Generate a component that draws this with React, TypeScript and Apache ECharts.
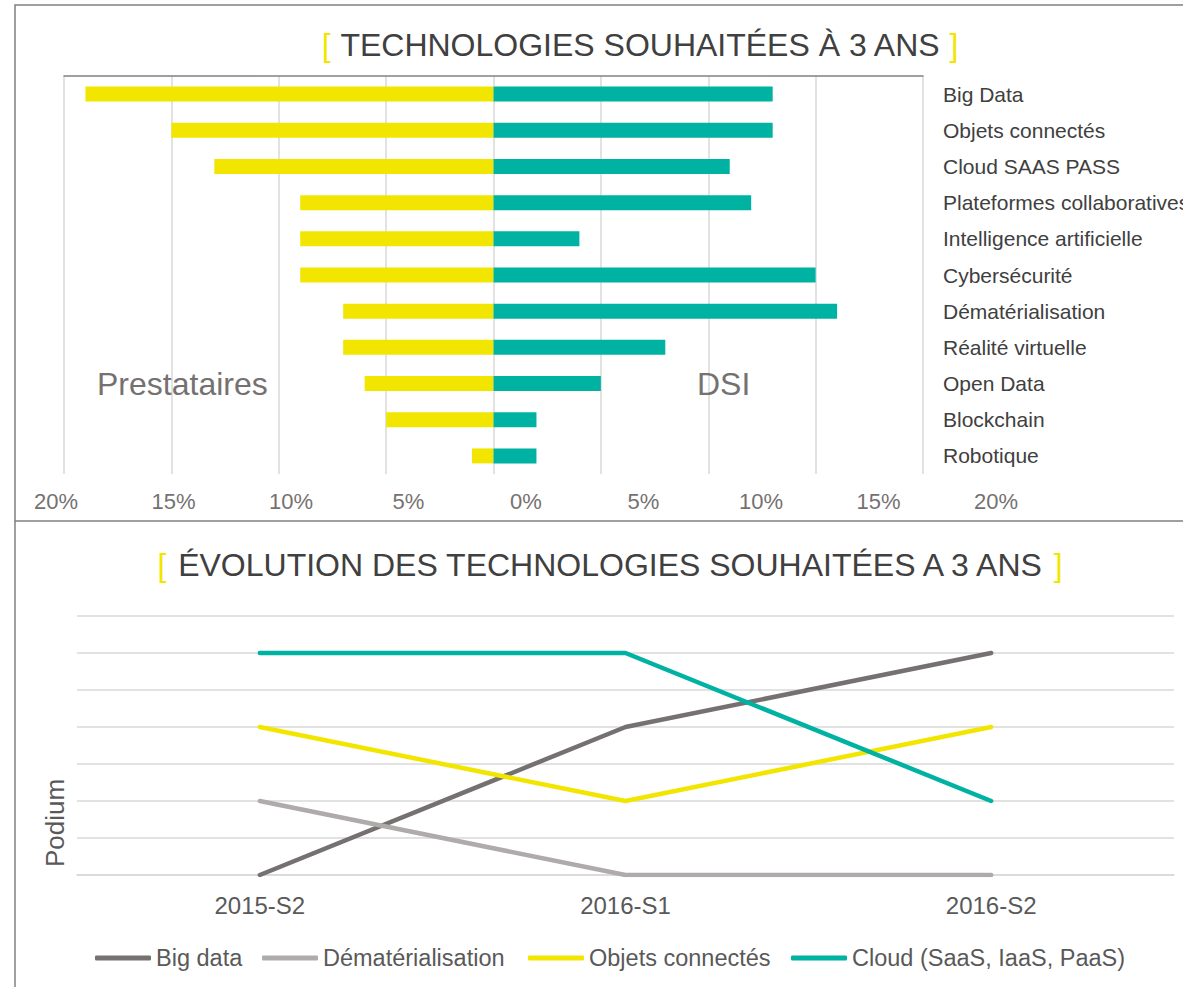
import React, { useEffect, useRef } from "react";
import * as echarts from "echarts";

const categories = [
  "Big Data",
  "Objets connectés",
  "Cloud SAAS PASS",
  "Plateformes collaboratives",
  "Intelligence artificielle",
  "Cybersécurité",
  "Dématérialisation",
  "Réalité virtuelle",
  "Open Data",
  "Blockchain",
  "Robotique",
];
const prestataires = [19, 15, 13, 9, 9, 9, 7, 7, 6, 5, 1];
const dsi = [13, 13, 11, 12, 4, 15, 16, 8, 5, 2, 2];

const periods = ["2015-S2", "2016-S1", "2016-S2"];
const seriesNames = ["Big data", "Dématérialisation", "Objets connectés", "Cloud (SaaS, IaaS, PaaS)"];
const bigData = [0, 2, 3];
const dematerialisation = [1, 0, 0];
const objetsConnectes = [2, 1, 2];
const cloud = [3, 3, 1];

const FONT = "Liberation Sans, Arial, sans-serif";
const YELLOW = "#F2E600";
const TEAL = "#00B2A2";
const DARK = "#767171";
const LIGHT = "#AFABAB";

export default function App() {
  const ref = useRef<HTMLDivElement>(null);
  useEffect(() => {
    if (!ref.current) return;
    const chart = echarts.init(ref.current, null, { renderer: "svg" });
    const titleRich = {
      b: { fill: YELLOW, fontSize: 32, fontFamily: FONT },
      t: { fill: "#404040", fontSize: 32, fontFamily: FONT },
    };
    const legendLefts = [95, 262, 528, 791];
    const lineColors = [DARK, LIGHT, YELLOW, TEAL];
    const lineData = [bigData, dematerialisation, objetsConnectes, cloud];
    chart.setOption({
      animation: false,
      backgroundColor: "#ffffff",
      textStyle: { fontFamily: FONT },
      graphic: [
        {
          type: "rect",
          shape: { x: 15, y: 5, width: 1200, height: 516 },
          style: { fill: "none", stroke: "#808080", lineWidth: 1.5 },
          silent: true,
        },
        {
          type: "line",
          shape: { x1: 15, y1: 521, x2: 15, y2: 995 },
          style: { stroke: "#808080", lineWidth: 1.5 },
          silent: true,
        },
        {
          type: "text",
          x: 640,
          y: 45,
          style: {
            text: "{b|[} {t|TECHNOLOGIES SOUHAITÉES À 3 ANS} {b|]}",
            rich: titleRich,
            fontSize: 32,
            fontFamily: FONT,
            align: "center",
            verticalAlign: "middle",
          },
        },
        {
          type: "text",
          x: 610,
          y: 565,
          style: {
            text: "{b|[} {t|ÉVOLUTION DES TECHNOLOGIES SOUHAITÉES A 3 ANS} {b|]}",
            rich: titleRich,
            fontSize: 32,
            fontFamily: FONT,
            align: "center",
            verticalAlign: "middle",
          },
        },
        {
          type: "text",
          x: 97,
          y: 384,
          style: {
            text: "Prestataires",
            fill: DARK,
            fontSize: 32,
            fontFamily: FONT,
            align: "left",
            verticalAlign: "middle",
          },
          z: 10,
        },
        {
          type: "text",
          x: 697,
          y: 384,
          style: {
            text: "DSI",
            fill: DARK,
            fontSize: 32,
            fontFamily: FONT,
            align: "left",
            verticalAlign: "middle",
          },
          z: 10,
        },
        {
          type: "text",
          x: 55,
          y: 823,
          rotation: Math.PI / 2,
          style: {
            text: "Podium",
            fill: "#595959",
            fontSize: 26,
            fontFamily: FONT,
            align: "center",
            verticalAlign: "middle",
          },
        },
      ],
      grid: [
        { left: 64, right: 260, top: 76, bottom: 987 - 474, outerBoundsMode: "none", containLabel: false },
        { left: 56, width: 940, top: 478, height: 10, outerBoundsMode: "none", containLabel: false },
        { left: 77, right: 9, top: 616, bottom: 987 - 875, outerBoundsMode: "none", containLabel: false },
      ],
      xAxis: [
        {
          gridIndex: 0,
          type: "value",
          position: "top",
          min: -20,
          max: 20,
          interval: 5,
          axisLabel: { show: false },
          axisTick: { show: false },
          axisLine: { show: true, onZero: false, lineStyle: { color: "#808080", width: 1.5 } },
          splitLine: { show: true, lineStyle: { color: "#D9D9D9", width: 1.5 } },
        },
        {
          gridIndex: 1,
          type: "value",
          min: -20,
          max: 20,
          interval: 5,
          axisLine: { show: false },
          axisTick: { show: false },
          splitLine: { show: false },
          axisLabel: {
            margin: 2,
            fontSize: 22,
            color: DARK,
            fontFamily: FONT,
            formatter: (v: number) => Math.abs(v) + "%",
          },
        },
        {
          gridIndex: 2,
          type: "category",
          data: periods,
          boundaryGap: true,
          axisLine: { show: true, lineStyle: { color: "#D9D9D9", width: 1.5 } },
          axisTick: { show: false },
          axisLabel: { margin: 18, fontSize: 24, color: "#595959", fontFamily: FONT },
        },
      ],
      yAxis: [
        {
          gridIndex: 0,
          type: "category",
          data: categories,
          inverse: true,
          position: "right",
          axisLine: { show: false },
          axisTick: { show: false },
          axisLabel: {
            margin: 20,
            fontSize: 21,
            color: "#404040",
            fontFamily: FONT,
            align: "left",
          },
        },
        { gridIndex: 1, type: "value", show: false },
        {
          gridIndex: 2,
          type: "value",
          min: 0,
          max: 3.5,
          interval: 0.5,
          axisLabel: { show: false },
          axisLine: { show: false },
          axisTick: { show: false },
          splitLine: { show: true, lineStyle: { color: "#D9D9D9", width: 1.5 } },
        },
      ],
      legend: seriesNames.map((n, i) => ({
        left: legendLefts[i],
        top: 946,
        padding: 0,
        itemWidth: 56,
        itemHeight: 5,
        icon: "roundRect",
        textStyle: { fontSize: 23.5, color: "#595959", fontFamily: FONT },
        data: [n],
      })),
      series: [
        {
          name: "Prestataires",
          type: "bar",
          xAxisIndex: 0,
          yAxisIndex: 0,
          data: prestataires.map((v) => -v),
          barWidth: 15,
          barGap: "-100%",
          itemStyle: { color: YELLOW },
        },
        {
          name: "DSI",
          type: "bar",
          xAxisIndex: 0,
          yAxisIndex: 0,
          data: dsi,
          barWidth: 15,
          barGap: "-100%",
          itemStyle: { color: TEAL },
        },
        ...seriesNames.map((n, i) => ({
          name: n,
          type: "line",
          xAxisIndex: 2,
          yAxisIndex: 2,
          data: lineData[i],
          showSymbol: false,
          color: lineColors[i],
          lineStyle: { width: 4.5, color: lineColors[i], cap: "round" },
        })),
      ],
    });
    return () => chart.dispose();
  }, []);
  return (
    <div
      ref={ref}
      style={{ position: "absolute", left: 0, top: 0, width: 1183, height: 987 }}
    />
  );
}
